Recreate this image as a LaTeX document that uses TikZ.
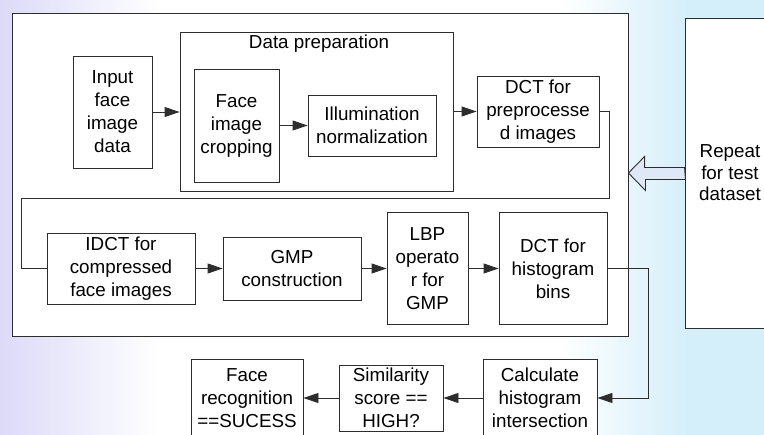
\documentclass[tikz,border=0pt]{standalone}
\usepackage{fontspec}
\setmainfont{Liberation Sans}
\usetikzlibrary{arrows.meta,calc}
\definecolor{bglav}{RGB}{220,218,248}
\definecolor{bgcyan}{RGB}{212,238,250}
\definecolor{boxline}{RGB}{45,45,45}
\definecolor{hollowblue}{RGB}{222,232,246}

\begin{document}
\begin{tikzpicture}[x=1pt, y=-1pt,
  blk/.style={draw=boxline, line width=0.9pt, fill=white, inner sep=0pt, align=center, font=\fontsize{18.8}{23}\selectfont},
  flow/.style={draw=boxline, line width=0.9pt, -{Triangle[length=15pt,width=10pt]}},
  wire/.style={draw=boxline, line width=0.9pt}
]
\useasboundingbox (0,0) rectangle (764,435);
\fill[white] (0,0) rectangle (764,435);
\shade[left color=bglav, right color=white] (0,0) rectangle (160,435);
\shade[left color=white, right color=bgcyan] (560,0) rectangle (690,435);
\fill[bgcyan] (690,0) rectangle (764,435);

\node[blk, minimum width=616, minimum height=323] (outer) at (320,174.5) {};
\node[blk, minimum width=273, minimum height=159] (prep) at (316.5,111.5) {};
\node[anchor=north, inner sep=3pt, font=\fontsize{18.8}{23}\selectfont, xshift=2.5pt] (preplabel) at (prep.north) {Data preparation};

\node[blk, minimum width=79, minimum height=112] (input) at (112.5,112) {Input\\face\\image\\data};
\node[blk, minimum width=85, minimum height=113] (crop) at (236.5,125.5) {Face\\image\\cropping};
\node[blk, minimum width=128, minimum height=61] (illum) at (372,125.5) {Illumination\\normalization};
\node[blk, minimum width=122, minimum height=71] (dctpre) at (538,111.5) {DCT for\\preprocesse\\d images};

\node[blk, minimum width=148, minimum height=71] (idct) at (121,268.5) {IDCT for\\compressed\\face images};
\node[blk, minimum width=138, minimum height=63] (gmp) at (292,268.5) {GMP\\construction};
\node[blk, minimum width=81, minimum height=112] (lbp) at (427.5,268.5) {LBP\\operato\\r for\\GMP};
\node[blk, minimum width=108, minimum height=112] (dcthist) at (553,268.5) {DCT for\\histogram\\bins};

\node[blk, minimum width=114, minimum height=78] (calc) at (540,398) {Calculate\\histogram\\intersection};
\node[blk, minimum width=104, minimum height=66] (simil) at (391,398) {Similarity\\score ==\\HIGH?};
\node[blk, minimum width=112, minimum height=78] (facerec) at (247,398) {Face\\recognition\\==SUCESS};

\node[blk, minimum width=90, minimum height=310, font=\fontsize{18.8}{21.5}\selectfont] (repeat) at (730,173) {Repeat\\for test\\dataset};

\coordinate (wrapR) at (609,198);
\coordinate (wrapL) at (21,198);
\coordinate (drop) at (648,398);

\draw[flow] (input.east) -- (input.east -| prep.west);
\draw[flow] (crop) -- (illum);
\draw[flow] (prep.east) -- (dctpre.west);
\draw[wire] (dctpre.east) -| (wrapR) -- (wrapL) |- (idct.west);
\draw[flow] (idct) -- (gmp);
\draw[flow] (gmp) -- (lbp);
\draw[flow] (lbp) -- (dcthist);
\draw[flow] (dcthist.east) -| (drop) -- (calc.east);
\draw[flow] (calc) -- (simil);
\draw[flow] (simil) -- (facerec);

\draw[draw=boxline, line width=0.9pt, fill=hollowblue]
  (repeat.west) ++(0,-5.5) -- ++(-40,0) -- ++(0,-11) -- (outer.east |- repeat.west)
  -- ++(17,17.5) -- ++(0,-11) -- ++(40,0) -- cycle;
\end{tikzpicture}
\end{document}
